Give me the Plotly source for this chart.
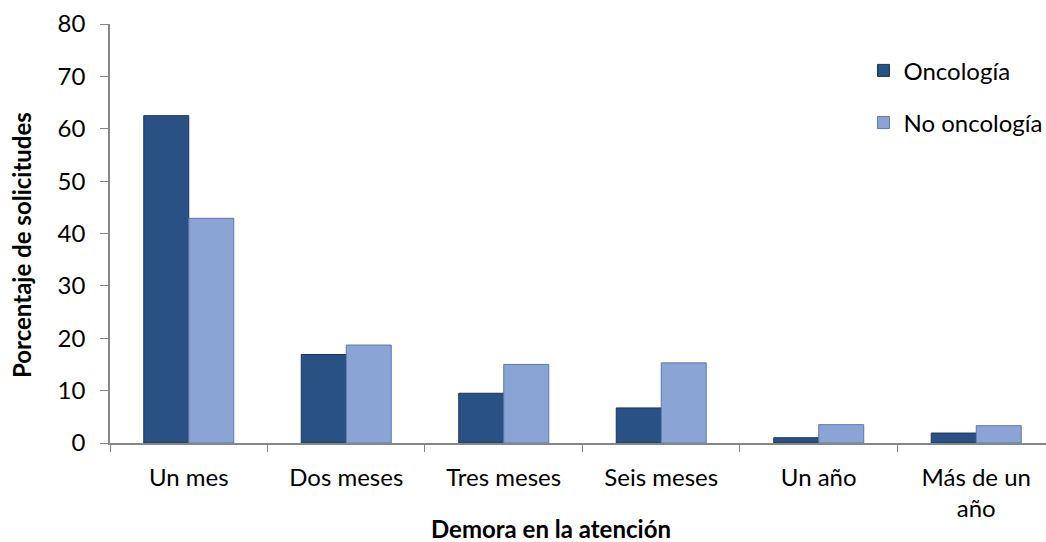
import plotly.graph_objects as go

# Waiting time categories and share of requests (%)
categorias = ["Un mes", "Dos meses", "Tres meses", "Seis meses", "Un año", "Más de un<br>año"]
oncologia = [62.5, 16.9, 9.5, 6.7, 1.0, 1.9]
no_oncologia = [42.9, 18.7, 15.0, 15.3, 3.5, 3.3]
y_ticks = [0, 10, 20, 30, 40, 50, 60, 70, 80]

FONT = "Lato, 'Open Sans', sans-serif"
AXIS_GRAY = "#878787"

fig = go.Figure()
fig.add_trace(go.Bar(
    x=categorias, y=oncologia, name="Oncología",
    marker=dict(color="#2a5184", line=dict(color="#1a365c", width=1)),
    legendgroup="a",
))
fig.add_trace(go.Bar(
    x=categorias, y=no_oncologia, name="No oncología",
    marker=dict(color="#8aa5d5", line=dict(color="#5c79aa", width=1)),
    legendgroup="b",
))

fig.update_layout(
    width=1046, height=542,
    margin=dict(l=110, r=0, t=24, b=99, autoexpand=False),
    paper_bgcolor="white", plot_bgcolor="white",
    font=dict(family=FONT, size=24, color="#000000"),
    barmode="group", bargap=0.4286, bargroupgap=0,
    legend=dict(
        x=0.805, y=0.942, xanchor="left", yanchor="top",
        font=dict(size=24), traceorder="grouped", tracegroupgap=18,
        itemwidth=30, bgcolor="rgba(0,0,0,0)",
    ),
    xaxis=dict(
        type="category", range=[-0.5, 5.443], automargin=False,
        showline=True, linecolor=AXIS_GRAY, linewidth=1.5,
        ticks="outside", tickson="boundaries", ticklen=7, tickcolor=AXIS_GRAY,
        tickfont=dict(size=24), ticklabelstandoff=12,
    ),
    yaxis=dict(
        range=[0, 80], tickvals=y_ticks, automargin=False,
        showline=True, linecolor=AXIS_GRAY, linewidth=1.5, showgrid=False, zeroline=False,
        ticks="outside", ticklen=8, tickcolor=AXIS_GRAY,
        tickfont=dict(size=24), ticklabelstandoff=10,
    ),
    annotations=[
        dict(text="<b>Demora en la atención</b>", xref="paper", yref="paper",
             x=0.471, y=-0.203, xanchor="center", yanchor="middle",
             showarrow=False, font=dict(size=24)),
        dict(text="<b>Porcentaje de solicitudes</b>", xref="paper", yref="paper",
             x=-0.094, y=0.4726, xanchor="center", yanchor="middle", textangle=-90,
             showarrow=False, font=dict(size=24)),
    ],
)

fig.write_html("out.html")
